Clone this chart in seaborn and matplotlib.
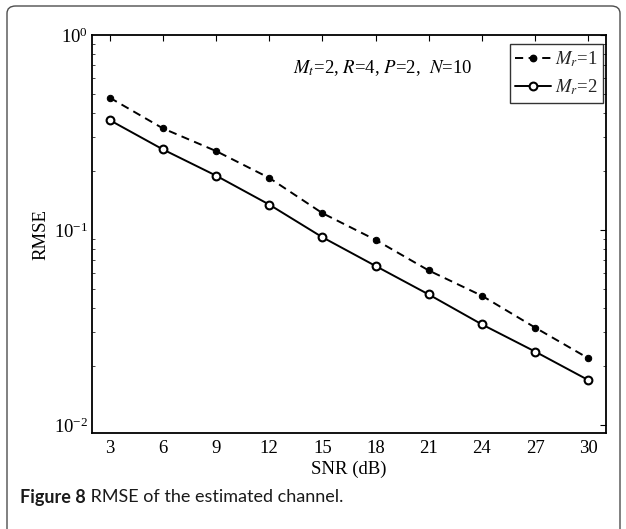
import numpy as np
import pandas as pd
import seaborn as sns
import matplotlib
matplotlib.use("Agg")
import matplotlib.pyplot as plt
from matplotlib.patches import FancyBboxPatch
from matplotlib.lines import Line2D

# ---- data ----
snr_db = [3, 6, 9, 12, 15, 18, 21, 24, 27, 30]
rmse_mr1 = [0.477, 0.332, 0.254, 0.185, 0.122, 0.089, 0.062, 0.046, 0.0316, 0.0220]
rmse_mr2 = [0.366, 0.259, 0.190, 0.135, 0.0918, 0.0654, 0.0467, 0.0328, 0.0238, 0.0170]
series_labels = [r"$M_r$=1", r"$M_r$=2"]
annotation = r"$M_t$=2, $R$=4, $P$=2,  $N$=10"
x_label = "SNR (dB)"
y_label = "RMSE"
caption_bold = "Figure 8"
caption_rest = " RMSE of the estimated channel."

sns.set_theme(style="white")
plt.rcParams["font.family"] = ["Liberation Serif", "DejaVu Serif"]
plt.rcParams["mathtext.fontset"] = "stix"

W, H = 626, 529
fig = plt.figure(figsize=(W / 100, H / 100), dpi=100)
fig.patch.set_facecolor("white")

# outer rounded frame
frame = FancyBboxPatch((7 / W, -30 / H), (620 - 7) / W, (523 + 30) / H,
                       boxstyle="round,pad=0,rounding_size=0.014",
                       transform=fig.transFigure, facecolor="none",
                       edgecolor="#4d4d4d", linewidth=1.0, zorder=0)
fig.patches.append(frame)

ax = fig.add_axes([92 / W, 1 - 433 / H, (606 - 92) / W, (433 - 35) / H])

df = pd.DataFrame({"snr": snr_db * 2,
                   "rmse": rmse_mr1 + rmse_mr2,
                   "series": [series_labels[0]] * len(snr_db) + [series_labels[1]] * len(snr_db)})

dash = (0, (4.2, 2.8))
LW = 1.4
sns.lineplot(data=df[df.series == series_labels[0]], x="snr", y="rmse", ax=ax,
             color="black", linestyle=dash, linewidth=LW,
             marker="o", markersize=4.6, markerfacecolor="black",
             markeredgecolor="black", legend=False)
sns.lineplot(data=df[df.series == series_labels[1]], x="snr", y="rmse", ax=ax,
             color="black", linestyle="-", linewidth=LW,
             marker="o", markersize=5.6, markerfacecolor="white",
             markeredgecolor="black", markeredgewidth=1.5, legend=False)

ax.set_yscale("log")
ax.set_xlim(2, 31)
ax.set_ylim(0.0091, 1)
ax.set_xticks(snr_db)
ax.set_xticklabels([str(v) for v in snr_db])
ax.grid(False)
for s in ax.spines.values():
    s.set_visible(True)
    s.set_color("black")
    s.set_linewidth(1.3)
FS = 13.5
ax.tick_params(axis="both", which="major", direction="in", length=4.5, width=0.8,
               top=True, right=True, labelsize=FS, colors="black")
ax.tick_params(axis="y", which="minor", direction="in", length=2.5, width=0.6,
               left=True, right=True)
ax.tick_params(axis="x", which="major", pad=5)
ax.tick_params(axis="y", which="major", pad=3)
ax.set_xlabel(x_label, fontsize=FS, labelpad=2.5, color="black")
ax.set_ylabel(y_label, fontsize=FS, labelpad=3, color="black")

ax.text(0.565, 0.917, annotation, transform=ax.transAxes, ha="center", va="center",
        fontsize=FS, color="black")

handles = [Line2D([], [], color="black", linestyle=dash, linewidth=LW,
                  marker="o", markersize=4.6, markerfacecolor="black"),
           Line2D([], [], color="black", linestyle="-", linewidth=LW,
                  marker="o", markersize=5.6, markerfacecolor="white",
                  markeredgewidth=1.5)]
leg = ax.legend(handles, series_labels, loc="upper right", bbox_to_anchor=(1.0, 0.985),
                fontsize=FS, frameon=True, fancybox=False, edgecolor="black",
                handlelength=1.9, handletextpad=0.2, borderpad=0.3, labelspacing=0.45,
                borderaxespad=0.15)
leg.get_frame().set_linewidth(1.0)

# caption
renderer = fig.canvas.get_renderer()
cap_y = 1 - 497 / H
t1 = fig.text(20 / W, cap_y, caption_bold, fontsize=13, fontweight="bold",
              family=["Lato", "DejaVu Sans"], va="center", ha="left", color="#1a1a1a")
bb = t1.get_window_extent(renderer=renderer)
fig.text(bb.x1 / W, cap_y, caption_rest, fontsize=13,
         family=["Lato", "DejaVu Sans"], va="center", ha="left", color="#1a1a1a")

fig.savefig("out.png", dpi=100)
